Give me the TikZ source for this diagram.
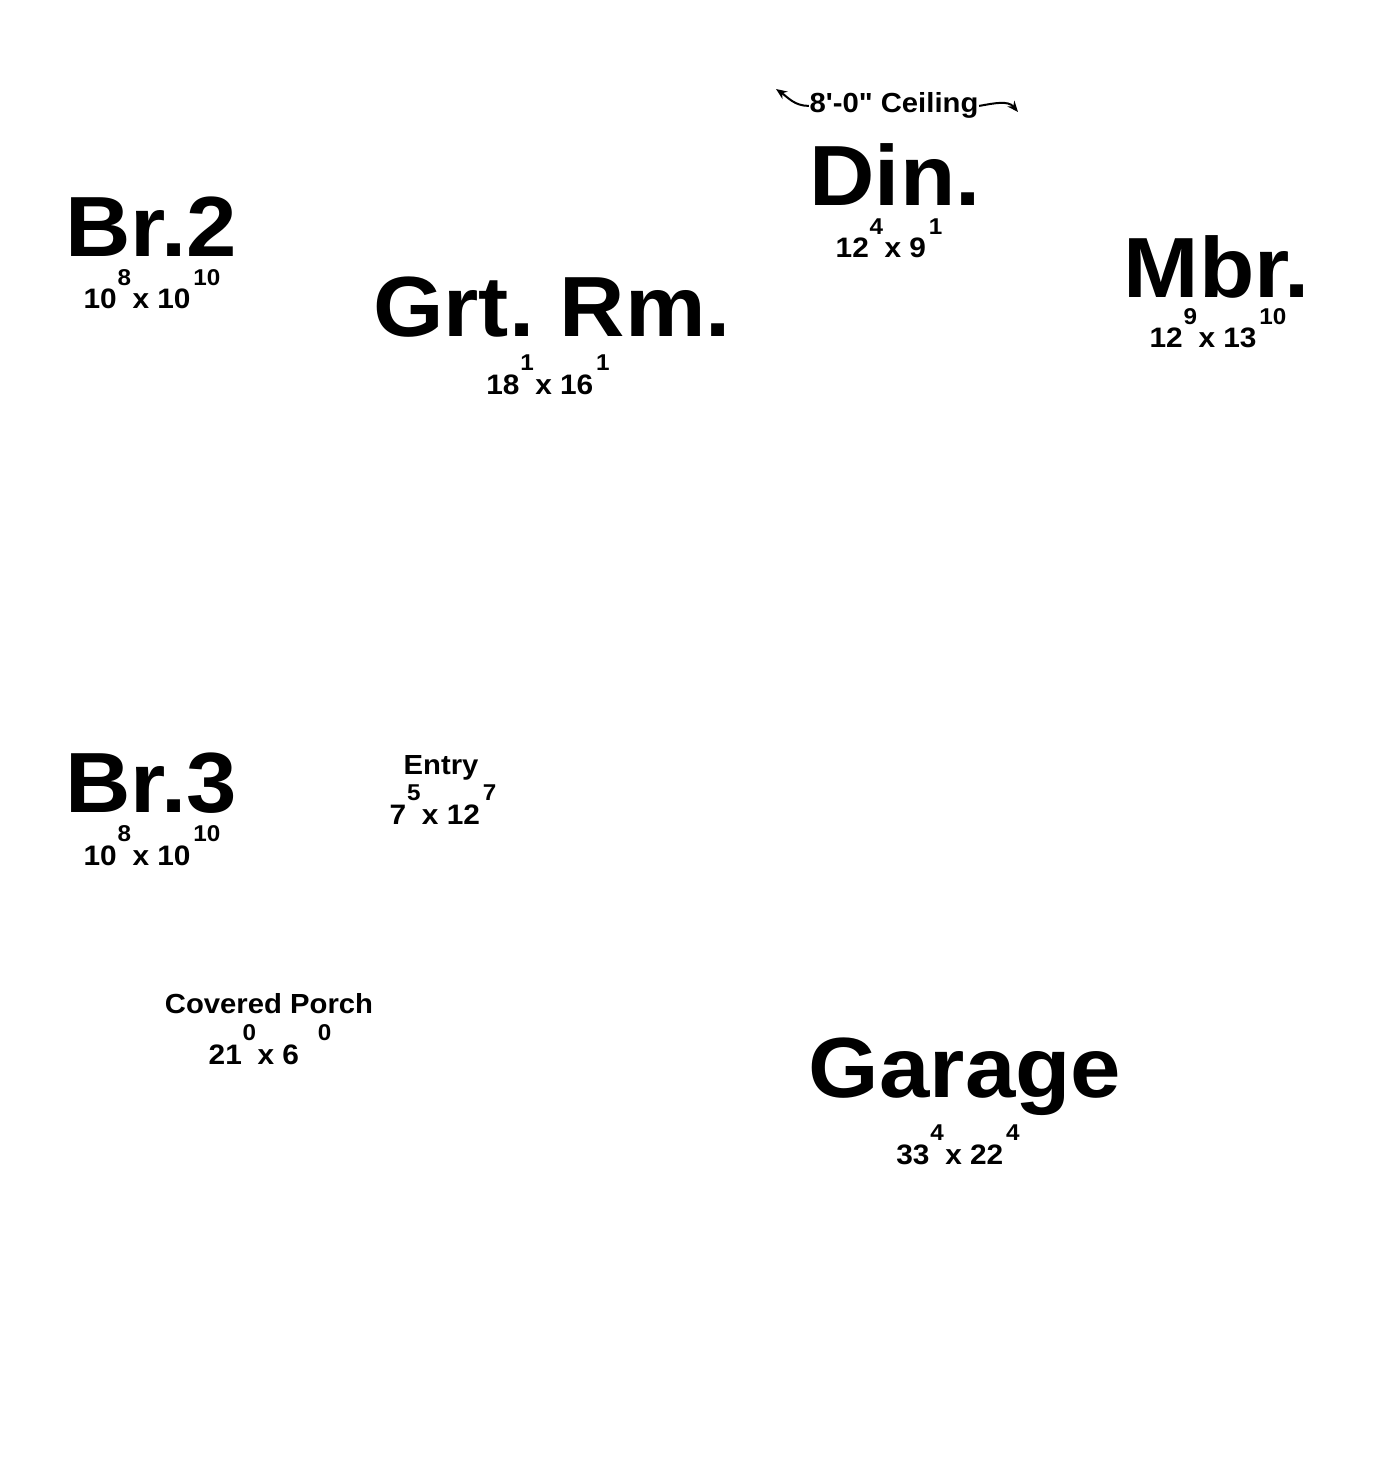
\documentclass[tikz,border=0pt]{standalone}
\usepackage{fontspec}
\setmainfont{Liberation Sans}
\newfontfamily\roomfont[FakeStretch=1.06]{Liberation Sans}
\usetikzlibrary{arrows.meta}
\def\roomdims#1#2#3#4{#1\kern.03em\raisebox{2.3mm}{\fontsize{6.5}{8}\selectfont#2}\kern.05em x #3\kern.1em\raisebox{2.3mm}{\fontsize{6.5}{8}\selectfont#4}}
\tikzset{
	room/.style={anchor=base, inner sep=0pt, font=\roomfont\fontsize{24.3}{28}\selectfont\bfseries},
	roomsmall/.style={anchor=base, inner sep=0pt, font=\roomfont\fontsize{7.85}{10}\selectfont\bfseries},
	dims/.style={anchor=base, inner sep=0pt, font=\roomfont\fontsize{8}{10}\selectfont\bfseries},
	ceilarrow/.style={line width=0.2mm, -{Stealth[length=1.1mm, width=0.9mm]}}
}
\begin{document}
\begin{tikzpicture}[x=0.01cm, y=-0.01cm]
			%%%%% START %%%%%
			\useasboundingbox (0, 0) rectangle (1393, 1458);
			
			\node[room] (br2) at (151, 257) {Br.2};
			\node[dims] (br2dims) at (152, 309) {\roomdims{10}{8}{10}{10}};
			
			\node[room] (grtrm) at (552, 337) {\spaceskip=0.2em Grt. Rm.};
			\node[dims] (grtrmdims) at (548, 394) {\roomdims{18}{1}{16}{1}};
			
			\node[roomsmall] (ceil) at (894, 113) {8\symbol{39}-0\symbol{34} Ceiling};
			\coordinate (ceilleft) at (776, 89);
			\coordinate (ceilright) at (1018, 112);
			\draw[ceilarrow] (ceil.west) to[out=180, in=-35] (ceilleft);
			\draw[ceilarrow] (ceil.east) to[out=10, in=130] (ceilright);
			
			\node[room] (din) at (895, 206) {Din.};
			\node[dims] (dindims) at (889, 258) {\roomdims{12}{4}{9}{1}};
			
			\node[room] (mbr) at (1217, 298) {Mbr.};
			\node[dims] (mbrdims) at (1218, 348) {\roomdims{12}{9}{13}{10}};
			
			\node[room] (br3) at (151, 812) {Br.3};
			\node[dims] (br3dims) at (152, 865) {\roomdims{10}{8}{10}{10}};
			
			\node[roomsmall] (entry) at (441, 774) {Entry};
			\node[dims] (entrydims) at (443, 824) {\roomdims{7}{5}{12}{7}};
			
			\node[roomsmall] (porch) at (269, 1013) {Covered Porch};
			\node[dims] (porchdims) at (270, 1064) {\roomdims{21}{0}{6\hspace{1.6mm}}{0}};
			
			\node[room] (garage) at (965, 1097) {Garage};
			\node[dims] (garagedims) at (958, 1164) {\roomdims{33}{4}{22}{4}};
			%%%%% END %%%%%
\end{tikzpicture}
\end{document}
